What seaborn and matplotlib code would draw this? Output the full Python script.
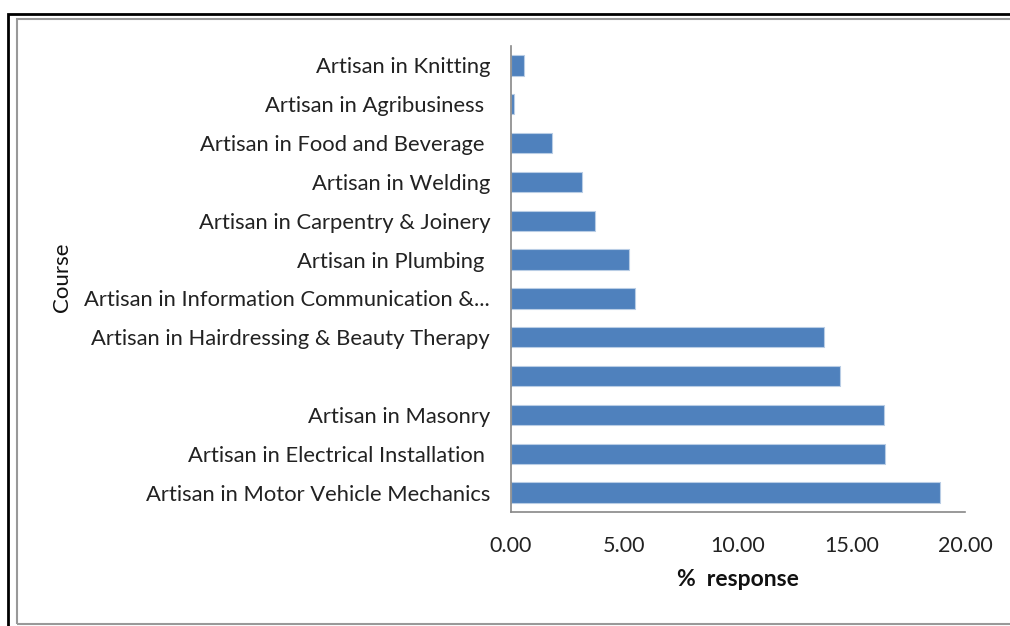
import matplotlib
matplotlib.use("Agg")
import matplotlib.pyplot as plt
import seaborn as sns
import pandas as pd
from matplotlib.patches import Rectangle

courses = [
    "Artisan in Knitting",
    "Artisan in Agribusiness ",
    "Artisan in Food and Beverage ",
    "Artisan in Welding",
    "Artisan in Carpentry & Joinery",
    "Artisan in Plumbing ",
    "Artisan in Information Communication &...",
    "Artisan in Hairdressing & Beauty Therapy",
    " ",
    "Artisan in Masonry",
    "Artisan in Electrical Installation ",
    "Artisan in Motor Vehicle Mechanics",
]
response = [0.59, 0.12, 1.80, 3.11, 3.68, 5.19, 5.48, 13.80, 14.50, 16.42, 16.46, 18.88]
x_ticks = [0, 5, 10, 15, 20]

df = pd.DataFrame({"Course": courses, "response": response})

sns.set_theme(style="white")
plt.rcParams["font.family"] = ["Lato", "DejaVu Sans"]

W, H = 1010, 626
fig = plt.figure(figsize=(W / 100, H / 100), dpi=100)
ax = fig.add_axes([511 / W, 1 - 512 / H, (965 - 511) / W, (512 - 46) / H])

sns.barplot(data=df, y="Course", x="response", order=courses, orient="h",
            color="#4F81BD", saturation=1, width=0.52, ax=ax,
            edgecolor="#B9CDE5", linewidth=0.8)

ax.set_xlim(0, 20)
ax.set_ylim(11.5, -0.5)
ax.set_xticks(x_ticks)
ax.set_xticklabels([f"{v:.2f}" for v in x_ticks], fontsize=15.5, color="#222222")
ax.tick_params(axis="x", direction="out", length=6, width=1, color="#888888", pad=11)
ax.tick_params(axis="y", length=0, pad=15, labelsize=15.8, labelcolor="#222222")
for lbl in ax.get_xticklabels():
    lbl.set_clip_on(False)

for s in ["top", "right"]:
    ax.spines[s].set_visible(False)
for s in ["left", "bottom"]:
    ax.spines[s].set_color("#888888")
    ax.spines[s].set_linewidth(1.2)

ax.set_xlabel("%  response", fontsize=16.5, fontweight="bold", color="#111111", labelpad=10)
ax.set_ylabel("")
fig.text(62 / W, 1 - 277 / H, "Course", rotation=90, fontsize=16,
         ha="center", va="center", color="#111111")

# frame borders
fig.patches.append(Rectangle((8 / W, -0.1), 1.2, 1 - 13.5 / H + 0.1, transform=fig.transFigure,
                             fill=False, edgecolor="black", linewidth=2))
fig.patches.append(Rectangle((17 / W, 1 - 623.5 / H), 1.2, (623.5 - 19) / H, transform=fig.transFigure,
                             fill=False, edgecolor="#999999", linewidth=1.5))

fig.savefig("out.png", dpi=100, facecolor="white")
